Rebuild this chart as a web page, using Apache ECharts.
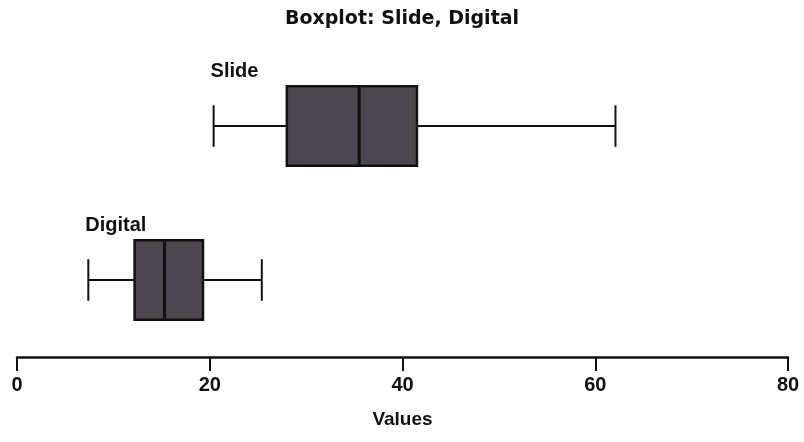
<!DOCTYPE html>
<html><head><meta charset="utf-8">
<script src="https://cdn.jsdelivr.net/npm/echarts@6/dist/echarts.min.js"></script>
<style>html,body{margin:0;padding:0;background:#fff}#c{width:804px;height:442px}</style>
</head><body><div id="c"></div>
<script>
var categories = ['Digital', 'Slide'];
var minVals = [7.4, 20.4];
var q1Vals = [12.2, 28.0];
var medianVals = [15.3, 35.5];
var q3Vals = [19.3, 41.5];
var maxVals = [25.4, 62.1];
var xTicks = [0, 20, 40, 60, 80];

var data = categories.map(function (c, i) {
  return [i, minVals[i], q1Vals[i], medianVals[i], q3Vals[i], maxVals[i]];
});

var chart = echarts.init(document.getElementById('c'));
chart.setOption({
  animation: false,
  backgroundColor: '#fff',
  title: {
    text: 'Boxplot: Slide, Digital', left: 'center', top: 5,
    textStyle: { fontFamily: 'DejaVu Sans', fontWeight: 'bold', fontSize: 19, color: '#111' }
  },
  grid: { left: 17, right: 16, top: 49, bottom: 85 },
  xAxis: {
    type: 'value', min: xTicks[0], max: xTicks[xTicks.length - 1], interval: 20,
    name: 'Values', nameLocation: 'middle', nameGap: 53,
    nameTextStyle: { fontFamily: 'Liberation Sans', fontWeight: 'bold', fontSize: 19, color: '#111' },
    axisLine: { show: true, lineStyle: { color: '#111', width: 2.5 } },
    axisTick: { show: true, length: 14, lineStyle: { color: '#111', width: 2 } },
    axisLabel: { margin: 18, fontFamily: 'Liberation Sans', fontWeight: 'bold', fontSize: 20, color: '#111' },
    splitLine: { show: false }
  },
  yAxis: {
    type: 'category', data: categories, show: false
  },
  series: [{
    type: 'custom',
    data: data,
    encode: { x: [1, 2, 3, 4, 5], y: 0 },
    renderItem: function (params, api) {
      var ci = api.value(0);
      var pMin = api.coord([api.value(1), ci]);
      var pQ1 = api.coord([api.value(2), ci]);
      var pMed = api.coord([api.value(3), ci]);
      var pQ3 = api.coord([api.value(4), ci]);
      var pMax = api.coord([api.value(5), ci]);
      var band = api.size([0, 1])[1];
      var bh = band * 0.515;
      var ch = band * 0.27;
      var y = pMin[1];
      var ls = { stroke: '#111', lineWidth: 2 };
      return {
        type: 'group',
        children: [
          { type: 'line', shape: { x1: pMin[0], y1: y, x2: pQ1[0], y2: y }, style: ls },
          { type: 'line', shape: { x1: pQ3[0], y1: y, x2: pMax[0], y2: y }, style: ls },
          { type: 'line', shape: { x1: pMin[0], y1: y - ch / 2, x2: pMin[0], y2: y + ch / 2 }, style: ls },
          { type: 'line', shape: { x1: pMax[0], y1: y - ch / 2, x2: pMax[0], y2: y + ch / 2 }, style: ls },
          { type: 'rect', shape: { x: pQ1[0], y: y - bh / 2, width: pQ3[0] - pQ1[0], height: bh },
            style: { fill: '#4c474f', stroke: '#111', lineWidth: 2.5 } },
          { type: 'line', shape: { x1: pMed[0], y1: y - bh / 2, x2: pMed[0], y2: y + bh / 2 },
            style: { stroke: '#111', lineWidth: 3 } },
          { type: 'text', x: pMin[0] - 3, y: y - bh / 2 - 5,
            style: { text: categories[ci], fill: '#111', font: 'bold 20px "Liberation Sans"',
              textAlign: 'left', textVerticalAlign: 'bottom' } }
        ]
      };
    }
  }]
});
</script></body></html>
